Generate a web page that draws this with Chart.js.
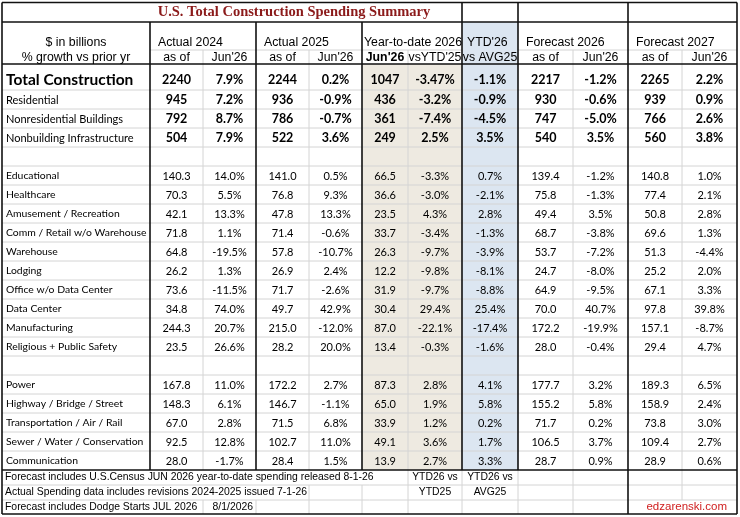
<!DOCTYPE html>
<html><head><meta charset="utf-8">
<script src="https://cdn.jsdelivr.net/npm/chart.js@4.4.1/dist/chart.umd.min.js"></script>
<style>html,body{margin:0;padding:0;background:#fff;overflow:hidden}#wrap{width:740px;height:517px}</style>
</head><body><div id="wrap"><canvas id="c" width="740" height="517"></canvas></div>
<script>
// ---------------- DATA ----------------
const titleText = 'U.S. Total Construction Spending Summary';
const rowLabels = ['Total Construction','Residential','Nonresidential Buildings','Nonbuilding Infrastructure',null,
  'Educational','Healthcare','Amusement / Recreation','Comm / Retail w/o Warehouse','Warehouse','Lodging',
  'Office w/o Data Center','Data Center','Manufacturing','Religious + Public Safety',null,
  'Power','Highway / Bridge / Street','Transportation / Air / Rail','Sewer / Water / Conservation','Communication'];
const actual2024   = [2240,945,792,504,null,140.3,70.3,42.1,71.8,64.8,26.2,73.6,34.8,244.3,23.5,null,167.8,148.3,67.0,92.5,28.0];
const growth2024   = [7.9,7.2,8.7,7.9,null,14.0,5.5,13.3,1.1,-19.5,1.3,-11.5,74.0,20.7,26.6,null,11.0,6.1,2.8,12.8,-1.7];
const actual2025   = [2244,936,786,522,null,141.0,76.8,47.8,71.4,57.8,26.9,71.7,49.7,215.0,28.2,null,172.2,146.7,71.5,102.7,28.4];
const growth2025   = [0.2,-0.9,-0.7,3.6,null,0.5,9.3,13.3,-0.6,-10.7,2.4,-2.6,42.9,-12.0,20.0,null,2.7,-1.1,6.8,11.0,1.5];
const ytd2026      = [1047,436,361,249,null,66.5,36.6,23.5,33.7,26.3,12.2,31.9,30.4,87.0,13.4,null,87.3,65.0,33.9,49.1,13.9];
const ytdVsYtd25   = [-3.47,-3.2,-7.4,2.5,null,-3.3,-3.0,4.3,-3.4,-9.7,-9.8,-9.7,29.4,-22.1,-0.3,null,2.8,1.9,1.2,3.6,2.7];
const ytdVsAvg25   = [-1.1,-0.9,-4.5,3.5,null,0.7,-2.1,2.8,-1.3,-3.9,-8.1,-8.8,25.4,-17.4,-1.6,null,4.1,5.8,0.2,1.7,3.3];
const forecast2026 = [2217,930,747,540,null,139.4,75.8,49.4,68.7,53.7,24.7,64.9,70.0,172.2,28.0,null,177.7,155.2,71.7,106.5,28.7];
const growth2026   = [-1.2,-0.6,-5.0,3.5,null,-1.2,-1.3,3.5,-3.8,-7.2,-8.0,-9.5,40.7,-19.9,-0.4,null,3.2,5.8,0.2,3.7,0.9];
const forecast2027 = [2265,939,766,560,null,140.8,77.4,50.8,69.6,51.3,25.2,67.1,97.8,157.1,29.4,null,189.3,158.9,73.8,109.4,28.9];
const growth2027   = [2.2,0.9,2.6,3.8,null,1.0,2.1,2.8,1.3,-4.4,2.0,3.3,39.8,-8.7,4.7,null,6.5,2.4,3.0,2.7,0.6];
const headerLeft   = ['$ in billions','% growth vs prior yr'];
const groupTitles  = ['Actual 2024','Actual 2025','Year-to-date 2026',"YTD'26",'Forecast 2026','Forecast 2027'];
const subHeaders   = ['as of',"Jun'26",'as of',"Jun'26","Jun'26","vsYTD'25",'vs AVG25','as of',"Jun'26",'as of',"Jun'26"];
const footerNotes  = ['Forecast includes U.S.Census JUN 2026 year-to-date spending released 8-1-26',
                      'Actual Spending data includes revisions 2024-2025 issued 7-1-26',
                      'Forecast includes Dodge Starts JUL 2026'];
const footerDate   = '8/1/2026';
const footerYtd    = ['YTD26 vs','YTD25'];
const footerAvg    = ['YTD26 vs','AVG25'];
const sourceText   = 'edzarenski.com';

// ---------------- LAYOUT ----------------
const COL = [2,150,203,256,309,362,408,462,518,573,628,682,737];
const TOP = 2.5, TITLE_B = 22, HEAD_MID = 50, HEAD_B = 64, TOTAL_B = 90, ROW_H = 19, DATA_B = 470, F1 = 485, F2 = 500, BOTTOM = 514;
const SANS = 'Lato, "Noto Sans", sans-serif';
const ARIAL = '"Liberation Sans", Arial, sans-serif';
const rowCenter = i => i === 0 ? 79.5 : TOTAL_B + (i - 1) * ROW_H + 10;
const colCenter = c => (COL[c] + COL[c + 1]) / 2;
const fmtVal = (v, i) => i <= 3 ? String(Math.round(v)) : v.toFixed(1);
const fmtPct = v => (Math.abs(v * 10 - Math.round(v * 10)) > 1e-6 ? v.toFixed(2) : v.toFixed(1)) + '%';

const columns = [
  {vals: actual2024, pct: false}, {vals: growth2024, pct: true},
  {vals: actual2025, pct: false}, {vals: growth2025, pct: true},
  {vals: ytd2026, pct: false}, {vals: ytdVsYtd25, pct: true}, {vals: ytdVsAvg25, pct: true},
  {vals: forecast2026, pct: false}, {vals: growth2026, pct: true},
  {vals: forecast2027, pct: false}, {vals: growth2027, pct: true}
];

function cellFont(i, isLabel) {
  if (isLabel) return i === 0 ? 'bold 15.5px ' + SANS : (i <= 3 ? '11px ' + SANS : '10.4px ' + SANS);
  return i <= 3 ? 'bold 12.5px ' + SANS : '11px ' + SANS;
}

const datasets = [];
datasets.push({
  label: 'labels',
  data: rowLabels.map((t, i) => t == null ? null : {x: COL[0] + 4, y: rowCenter(i), t: t, f: cellFont(i, true), a: 'left'}).filter(Boolean),
  pointRadius: 0
});
columns.forEach((col, c) => {
  datasets.push({
    label: 'col' + c,
    data: col.vals.map((v, i) => v == null ? null : {x: colCenter(c + 1), y: rowCenter(i), t: col.pct ? fmtPct(v) : fmtVal(v, i), f: cellFont(i, false), a: 'center'}).filter(Boolean),
    pointRadius: 0
  });
});

// ---------------- PLUGINS ----------------
const tablePlugin = {
  id: 'tableGrid',
  beforeDatasetsDraw(chart) {
    const ctx = chart.ctx, xs = chart.scales.x, ys = chart.scales.y;
    const X = v => xs.getPixelForValue(v), Y = v => ys.getPixelForValue(v);
    ctx.save();
    ctx.fillStyle = '#EEEAE1';
    ctx.fillRect(X(COL[5]), Y(HEAD_B), X(COL[7]) - X(COL[5]), Y(DATA_B) - Y(HEAD_B));
    ctx.fillStyle = '#DCE6F1';
    ctx.fillRect(X(COL[7]), Y(TITLE_B), X(COL[8]) - X(COL[7]), Y(DATA_B) - Y(TITLE_B));
    const h = (x1, x2, y, color, w) => { ctx.strokeStyle = color; ctx.lineWidth = w; ctx.beginPath(); ctx.moveTo(X(x1), Y(y)); ctx.lineTo(X(x2), Y(y)); ctx.stroke(); };
    const v = (x, y1, y2, color, w) => { ctx.strokeStyle = color; ctx.lineWidth = w; ctx.beginPath(); ctx.moveTo(X(x), Y(y1)); ctx.lineTo(X(x), Y(y2)); ctx.stroke(); };
    const LIGHT = '#D4D4D4', DARK = '#111', TW = 1.6;
    h(COL[1], COL[7], HEAD_MID, LIGHT, 1);
    h(COL[8], COL[12], HEAD_MID, LIGHT, 1);
    for (let k = 0; k < 20; k++) h(COL[0], COL[12], TOTAL_B + k * ROW_H, LIGHT, 1);
    h(COL[0], COL[12], F1, LIGHT, 1);
    h(COL[0], COL[12], F2, LIGHT, 1);
    [2, 4, 6, 9, 11].forEach(c => v(COL[c], HEAD_MID, DATA_B, LIGHT, 1));
    v(COL[2], F2, BOTTOM, LIGHT, 1);
    v(COL[3], F2, BOTTOM, LIGHT, 1);
    v(COL[4], F1, BOTTOM, LIGHT, 1);
    v(COL[5], F1, BOTTOM, LIGHT, 1);
    [6, 7, 8, 9].forEach(c => v(COL[c], DATA_B, BOTTOM, LIGHT, 1));
    v(COL[11], DATA_B, F2, LIGHT, 1);
    h(COL[0], COL[12], TOP, DARK, TW);
    h(COL[0], COL[12], TITLE_B, DARK, TW);
    h(COL[0], COL[12], HEAD_B, DARK, TW);
    h(COL[0], COL[12], DATA_B, DARK, TW);
    h(COL[0], COL[12], BOTTOM, DARK, TW);
    v(COL[0], TOP, BOTTOM, DARK, TW);
    v(COL[12], TOP, BOTTOM, DARK, TW);
    [1, 3, 5].forEach(c => v(COL[c], TITLE_B, DATA_B, DARK, TW));
    [7, 8].forEach(c => v(COL[c], TOP, DATA_B, DARK, TW));
    v(COL[10], TOP, BOTTOM, DARK, TW);
    ctx.restore();
  },
  afterDatasetsDraw(chart) {
    const ctx = chart.ctx, xs = chart.scales.x, ys = chart.scales.y;
    const X = v => xs.getPixelForValue(v), Y = v => ys.getPixelForValue(v);
    ctx.save();
    ctx.textBaseline = 'middle';
    chart.data.datasets.forEach((ds, d) => {
      const meta = chart.getDatasetMeta(d);
      meta.data.forEach((pt, j) => {
        const raw = ds.data[j];
        ctx.font = raw.f; ctx.textAlign = raw.a; ctx.fillStyle = '#000';
        ctx.fillText(raw.t, pt.x, pt.y);
      });
    });
    const txt = (s, x, y, font, align, color) => { ctx.font = font; ctx.textAlign = align; ctx.fillStyle = color || '#000'; ctx.fillText(s, X(x), Y(y)); };
    txt(titleText, 294, 12.5, 'bold 14.5px "Liberation Serif", "Times New Roman", serif', 'center', '#8B1A1A');
    const HF = '12.3px ' + ARIAL, y1 = 43, y2 = 57.5;
    txt(headerLeft[0], (COL[0] + COL[1]) / 2, y1, HF, 'center');
    txt(headerLeft[1], (COL[0] + COL[1]) / 2, y2, HF, 'center');
    txt(groupTitles[0], COL[1] + 8, y1, HF, 'left');
    txt(groupTitles[1], COL[3] + 8, y1, HF, 'left');
    txt(groupTitles[2], COL[5] + 2, y1, HF, 'left');
    txt(groupTitles[3], COL[7] + 5, y1, HF, 'left');
    txt(groupTitles[4], COL[8] + 8, y1, HF, 'left');
    txt(groupTitles[5], COL[10] + 8, y1, HF, 'left');
    subHeaders.forEach((s, k) => {
      const c = k + 1;
      const f = (c === 5 ? 'bold ' : '') + HF;
      txt(s, colCenter(c), y2, f, 'center');
    });
    const FF = '10.4px ' + ARIAL;
    const fy = [477.5, 492.5, 507];
    footerNotes.forEach((s, k) => txt(s, COL[0] + 3, fy[k], FF, 'left'));
    txt(footerDate, COL[3] - 3, fy[2], FF, 'right');
    txt(footerYtd[0], colCenter(6), fy[0], FF, 'center');
    txt(footerYtd[1], colCenter(6), fy[1], FF, 'center');
    txt(footerAvg[0], colCenter(7), fy[0], FF, 'center');
    txt(footerAvg[1], colCenter(7), fy[1], FF, 'center');
    txt(sourceText, 727, fy[2], '11.5px ' + ARIAL, 'right', '#D02020');
    ctx.restore();
  }
};

new Chart(document.getElementById('c'), {
  type: 'scatter',
  data: {datasets: datasets},
  options: {
    responsive: false,
    animation: false,
    events: [],
    layout: {padding: 0},
    plugins: {legend: {display: false}, tooltip: {enabled: false}, title: {display: false}},
    scales: {
      x: {type: 'linear', min: 0, max: 740, display: false},
      y: {type: 'linear', min: 0, max: 517, reverse: true, display: false}
    },
    elements: {point: {radius: 0, hoverRadius: 0}}
  },
  plugins: [tablePlugin]
});
</script>
</body></html>
